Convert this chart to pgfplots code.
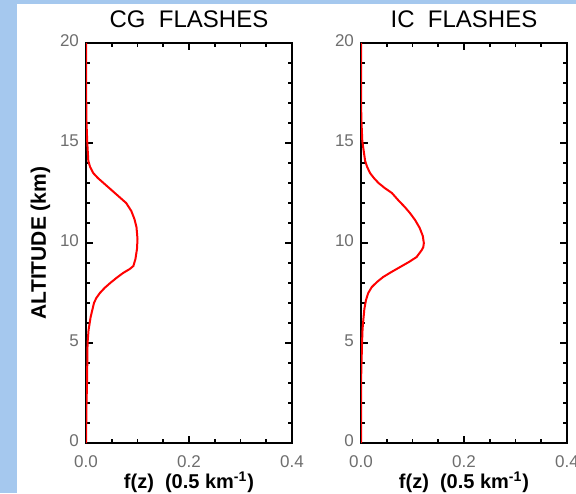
\documentclass[border=0pt]{standalone}
\usepackage{fontspec}
\setmainfont{Liberation Sans}
\usepackage{pgfplots}
\pgfplotsset{compat=1.18}
\definecolor{bgblue}{HTML}{A5C8EE}
\definecolor{ticklab}{HTML}{6E6E6E}

\pgfplotstableread{
f z
0.000 0.0
0.0005 1.0
0.001 2.0
0.002 3.0
0.0025 4.0
0.003 5.0
0.005 5.65
0.009 6.3
0.0155 7.0
0.020 7.25
0.027 7.5
0.036 7.75
0.047 8.0
0.059 8.25
0.072 8.5
0.085 8.7
0.092 8.85
0.096 9.2
0.099 9.7
0.100 10.2
0.098 10.8
0.094 11.2
0.088 11.6
0.078 12.0
0.067 12.25
0.056 12.5
0.045 12.75
0.034 13.0
0.023 13.25
0.014 13.5
0.008 13.8
0.0045 14.1
0.0025 15.0
0.001 16.0
0.0005 17.0
0.000 18.0
0.000 20.0
}\cgdata

\pgfplotstableread{
f z
0.000 0.0
0.000 3.0
0.002 5.0
0.003 5.7
0.0045 6.15
0.0065 6.7
0.0097 7.15
0.014 7.5
0.021 7.8
0.031 8.05
0.043 8.3
0.059 8.55
0.076 8.8
0.093 9.05
0.108 9.3
0.118 9.65
0.121 9.8
0.122 10.0
0.120 10.35
0.114 10.75
0.105 11.15
0.095 11.5
0.085 11.8
0.072 12.15
0.060 12.5
0.046 12.75
0.034 13.0
0.025 13.25
0.0175 13.5
0.012 13.8
0.008 14.1
0.0025 15.1
0.001 16.0
0.000 17.0
0.000 20.0
}\icdata

\pgfplotsset{
  flashaxis/.style={
    scale only axis,
    width=103pt, height=200pt,
    anchor=south west,
    xmin=0, xmax=0.4, ymin=0, ymax=20,
    xtick={0,0.2,0.4}, ytick={0,5,10,15,20},
    minor x tick num=3, minor y tick num=4,
    tick align=inside,
    major tick length=3.5pt, minor tick length=1.8pt,
    every tick/.style={black, line width=0.9pt},
    axis line style={black, line width=1.1pt},
    ticklabel style={font=\fontsize{8.5}{10}\selectfont, text=ticklab},
    xticklabel style={yshift=-3pt, /pgf/number format/.cd, fixed, fixed zerofill, precision=1, assume math mode=true},
    yticklabel style={yshift=1pt, /pgf/number format/assume math mode=true},
    xlabel={\textbf{f(z)\ \ (0.5 km\textsuperscript{-1})}},
    xlabel style={font=\fontsize{10}{12}\selectfont, yshift=5pt},
    title style={font=\fontsize{12}{14}\selectfont, yshift=-2pt},
  }
}

\begin{document}
\begin{tikzpicture}
\path[use as bounding box] (0,0) rectangle (288pt,246.5pt);
\fill[bgblue] (0,0) rectangle (288pt,246.5pt);
\fill[white] (8.5pt,0) rectangle (288pt,244.5pt);

\begin{axis}[flashaxis, at={(43pt,25pt)},
  title={CG\ \ FLASHES},
  ylabel={\textbf{ALTITUDE (km)}},
  ylabel style={font=\fontsize{10.5}{12}\selectfont, yshift=-2pt}]
\addplot[red, line width=1pt] table[x=f, y=z] {\cgdata};
\end{axis}

\begin{axis}[flashaxis, at={(180.5pt,25pt)},
  title={IC\ \ FLASHES}]
\addplot[red, line width=1pt] table[x=f, y=z] {\icdata};
\end{axis}
\end{tikzpicture}
\end{document}
